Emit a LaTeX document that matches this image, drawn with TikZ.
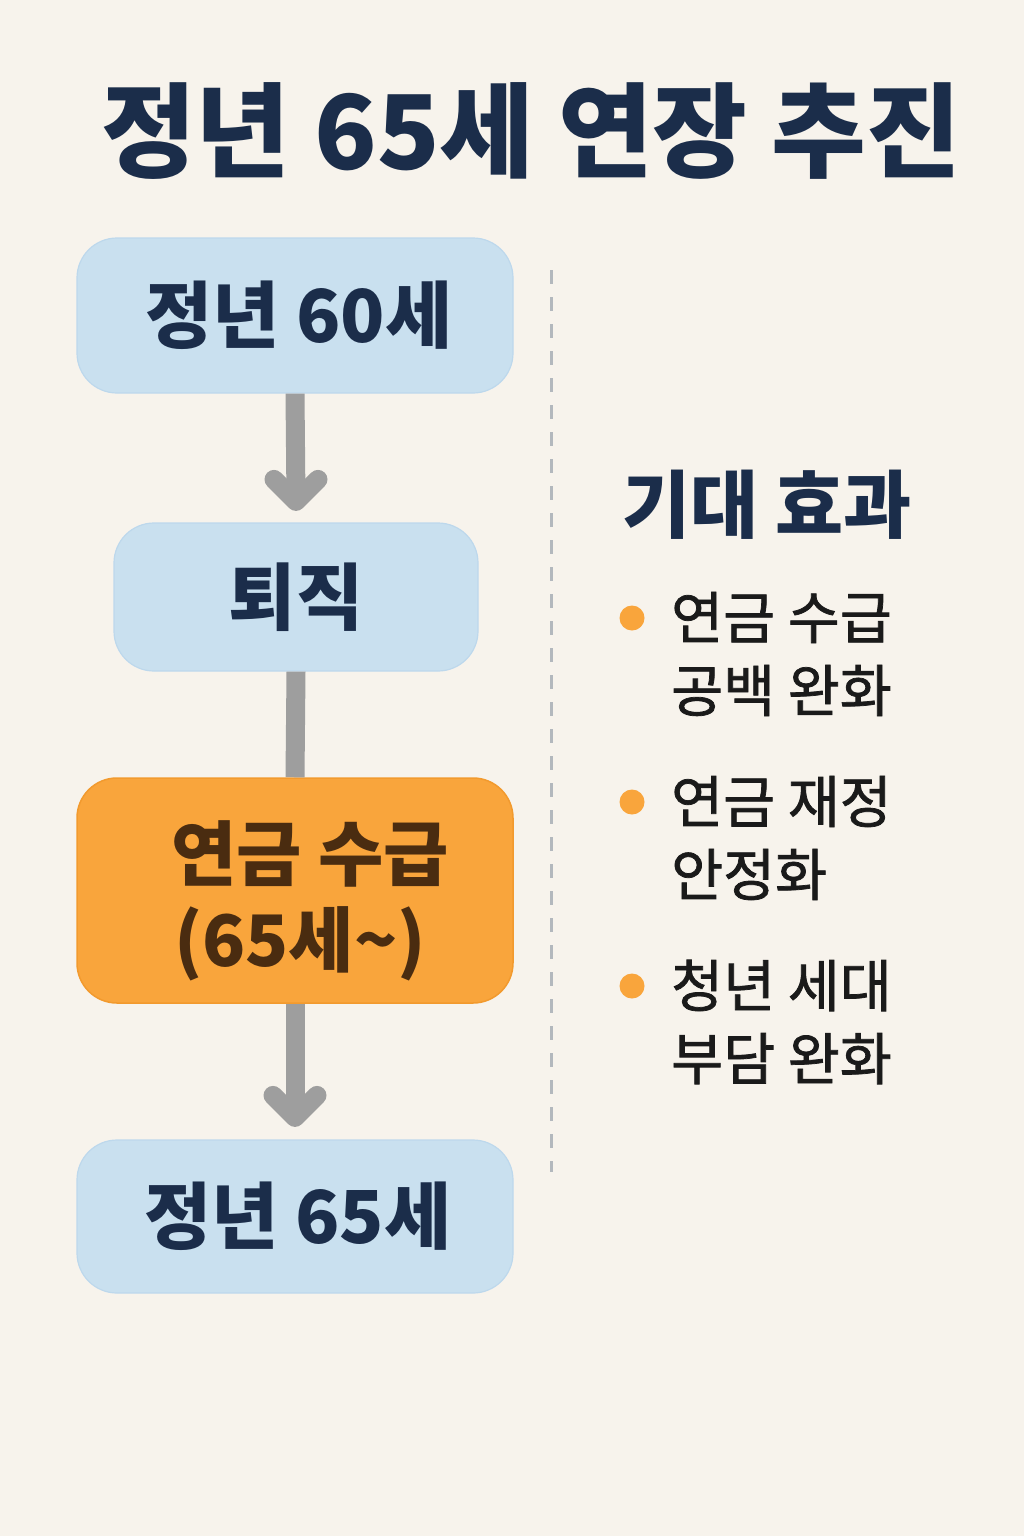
\documentclass[tikz,border=0pt]{standalone}
\usepackage{fontspec}
\setmainfont{Noto Sans CJK KR}
\newfontfamily\krmed{Noto Sans CJK KR}[FakeBold=1.3]
\usetikzlibrary{calc}
\definecolor{bgc}{HTML}{F7F3EC}
\definecolor{navy}{HTML}{1B2D4A}
\definecolor{boxblue}{HTML}{C9E0EF}
\definecolor{boxblueb}{HTML}{BDD8EC}
\definecolor{orng}{HTML}{F9A53C}
\definecolor{orngb}{HTML}{F29A2E}
\definecolor{brown}{HTML}{4A2C10}
\definecolor{conn}{HTML}{9E9E9E}
\definecolor{dashc}{HTML}{B3B8BD}
\definecolor{itemc}{HTML}{1A1A1A}
\begin{document}
\begin{tikzpicture}[x=1pt,y=-1pt,
  bluebox/.style={draw=boxblueb, line width=1.2pt, fill=boxblue, rounded corners=40pt, text=navy,
    font=\bfseries\fontsize{73}{80}\selectfont, inner sep=0pt},
  orangebox/.style={draw=orngb, line width=1.5pt, fill=orng, rounded corners=40pt, text=brown,
    font=\bfseries\fontsize{71}{86}\selectfont, inner sep=0pt, align=center},
  connline/.style={draw=conn, line width=19pt},
  chevron/.style={draw=conn, line width=19pt, line cap=round, line join=round},
  bulletdot/.style={circle, fill=orng, minimum size=25pt, inner sep=0pt},
  itemtext/.style={anchor=west, text=itemc, font=\krmed\fontsize{56.5}{73}\selectfont, align=left, inner sep=0pt},
]
\useasboundingbox (0,0) rectangle (1024,1536);
\fill[bgc] (0,0) rectangle (1024,1536);

% title
\node[text=navy, font=\bfseries\fontsize{103}{115}\selectfont, inner sep=0pt] (title) at (531,131) {정년 65세 연장 추진};

% flow boxes
\node[bluebox, minimum width=436pt, minimum height=155pt] (b1) at (295,315.5) {\hspace*{8pt}정년 60세};
\node[bluebox, minimum width=364pt, minimum height=148pt] (b2) at (296,597) {퇴직};
\node[orangebox, minimum width=436pt, minimum height=225pt] (b3) at (295,890.5) {\rule{0pt}{80pt}\hspace*{30pt}연금 수급\\\hspace*{10pt}(65세\textasciitilde)};
\node[bluebox, minimum width=436pt, minimum height=153pt] (b4) at (295,1216.5) {\hspace*{6pt}정년 65세};

% connectors
\coordinate (t1) at ($(b2.north)+(0,-21)$);
\coordinate (t2) at ($(b4.north)+(0,-22)$);
\draw[connline] (b1.south) -- (t1);
\draw[chevron] ($(t1)+(-22,-22)$) -- (t1) -- ($(t1)+(22,-22)$);
\draw[connline] (b2.south) -- (b3.north);
\draw[connline] (b3.south) -- (t2);
\draw[chevron] ($(t2)+(-22,-22)$) -- (t2) -- ($(t2)+(22,-22)$);

% dashed divider
\coordinate (d1) at (551,270);
\coordinate (d2) at (551,1172);
\draw[dashc, line width=3pt, dash pattern=on 14pt off 13pt] (d1) -- (d2);

% right column
\node[anchor=west, text=navy, font=\bfseries\fontsize{74}{80}\selectfont, inner sep=0pt] (head) at (622,505) {기대 효과};

\node[bulletdot] (p1) at (632,618) {};
\node[bulletdot] (p2) at (632,802) {};
\node[bulletdot] (p3) at (632,986) {};

\node[itemtext] (i1) at (671,654) {연금 수급\\공백 완화};
\node[itemtext] (i2) at (671,838) {연금 재정\\안정화};
\node[itemtext] (i3) at (671,1022) {청년 세대\\부담 완화};
\end{tikzpicture}
\end{document}
